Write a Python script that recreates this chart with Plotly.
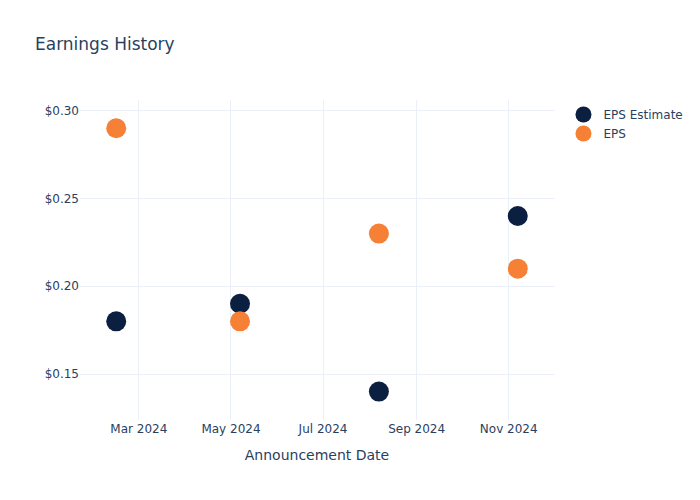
import plotly.graph_objects as go

dates = ["2024-02-15", "2024-05-07", "2024-08-07", "2024-11-07"]
eps_estimate = [0.18, 0.19, 0.14, 0.24]
eps_actual = [0.29, 0.18, 0.23, 0.21]

fig = go.Figure()
fig.add_trace(go.Scatter(x=dates, y=eps_estimate, mode="markers", name="EPS Estimate",
                         marker=dict(color="#0b1f41", size=20)))
fig.add_trace(go.Scatter(x=dates, y=eps_actual, mode="markers", name="EPS",
                         marker=dict(color="#f68136", size=20)))

fig.update_layout(
    template="plotly_white",
    width=700, height=500,
    font=dict(family="DejaVu Sans"),
    title=dict(text="Earnings History"),
    xaxis=dict(title=dict(text="Announcement Date"), range=["2024-01-22", "2024-12-01"]),
    yaxis=dict(tickprefix="$", tickformat=".2f", dtick=0.05, range=[0.1238, 0.3061]),
)
fig.write_html("out.html")
